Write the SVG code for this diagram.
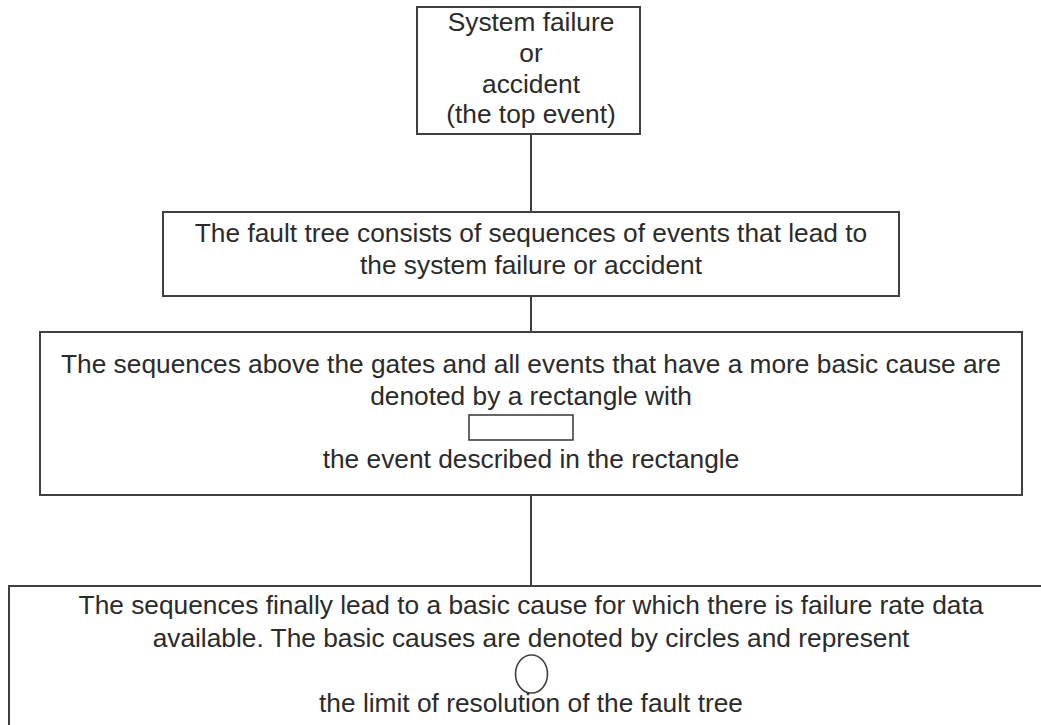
<svg xmlns="http://www.w3.org/2000/svg" width="1041" height="725" viewBox="0 0 1041 725">
  <style>
    .box { fill: #ffffff; stroke: #404040; stroke-width: 2; }
    .sym { fill: none; stroke: #404040; stroke-width: 1.6; }
    .wire { stroke: #2a2a2a; stroke-width: 1.8; fill: none; }
    text { font-family: "Liberation Sans", Arial, sans-serif; font-size: 26.3px; fill: #2b2b2b; text-anchor: middle; }
  </style>
  <rect width="1041" height="725" fill="#ffffff"/>

  <!-- connectors between the levels of the tree -->
  <g id="connectors">
    <line class="wire" x1="531" y1="134" x2="531" y2="212"/>
    <line class="wire" x1="531" y1="296" x2="531" y2="332"/>
    <line class="wire" x1="531" y1="495" x2="531" y2="586"/>
  </g>

  <g id="top-event">
    <rect class="box" x="417" y="7" width="223" height="127"/>
    <text x="531" y="31">System failure</text>
    <text x="531" y="62">or</text>
    <text x="531" y="93">accident</text>
    <text x="531" y="123">(the top event)</text>
  </g>

  <g id="fault-tree">
    <rect class="box" x="163" y="212" width="736" height="84"/>
    <text x="531" y="242">The fault tree consists of sequences of events that lead to</text>
    <text x="531" y="274">the system failure or accident</text>
  </g>

  <g id="gate-sequences">
    <rect class="box" x="40" y="332" width="982" height="163"/>
    <text x="531" y="373">The sequences above the gates and all events that have a more basic cause are</text>
    <text x="531" y="405">denoted by a rectangle with</text>
    <rect class="sym" x="469" y="415" width="104" height="25"/>
    <text x="531" y="468">the event described in the rectangle</text>
  </g>

  <g id="basic-causes">
    <rect class="box" x="9" y="586" width="1050" height="160"/>
    <text x="531" y="614">The sequences finally lead to a basic cause for which there is failure rate data</text>
    <text x="531" y="647">available. The basic causes are denoted by circles and represent</text>
    <ellipse class="sym" cx="531.5" cy="674" rx="16" ry="19"/>
    <text x="531" y="712">the limit of resolution of the fault tree</text>
  </g>
</svg>
